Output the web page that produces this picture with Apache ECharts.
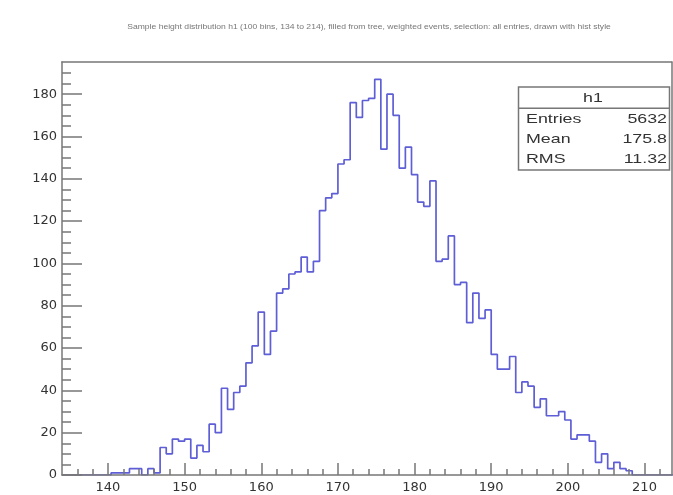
<!DOCTYPE html>
<html><head><meta charset="utf-8">
<script src="https://cdn.jsdelivr.net/npm/echarts@6/dist/echarts.min.js"></script>
<style>html,body{margin:0;padding:0;background:#fff}#c{width:673px;height:495px}</style>
</head><body><div id="c"></div>
<script>
// ---- data ----
const titleText = "Sample height distribution h1 (100 bins, 134 to 214), filled from tree, weighted events, selection: all entries, drawn with hist style";
const xMin = 134;
const binWidth = 0.8;
const binCounts = [
  0,0,0,0,0,0,0,0,1,1,
  1,3,3,0,3,1,13,10,17,16,
  17,8,14,11,24,20,41,31,39,42,
  53,61,77,57,68,86,88,95,96,103,
  96,101,125,131,133,147,149,176,169,177,
  178,187,154,180,170,145,155,142,129,127,
  139,101,102,113,90,91,72,86,74,78,
  57,50,50,56,39,44,42,32,36,28,
  28,30,26,17,19,19,16,6,10,3,
  6,3,2,0,0,0,0,0,0,0
];
const xMajorTicks = [140,150,160,170,180,190,200,210];
const xMinorTicks = [136,138,142,144,146,148,152,154,156,158,162,164,166,168,172,174,176,178,182,184,186,188,192,194,196,198,202,204,206,208,212];
const yMajorTicks = [0,20,40,60,80,100,120,140,160,180];
const yMinorTicks = [5,10,15,25,30,35,45,50,55,65,70,75,85,90,95,105,110,115,125,130,135,145,150,155,165,170,175,185,190];
const statsName = "h1";
const statsLabels = ["Entries","Mean","RMS"];
const statsValues = ["5632","175.8","11.32"];

// ---- build ----
const xMaxView = 213.55, yMaxView = 195.2;
const frameColor = '#777';
const lineData = binCounts.map((c, i) => [xMin + i * binWidth, c]);
lineData.push([xMin + binCounts.length * binWidth, binCounts[binCounts.length - 1]]);

const baseX = {type:'value', min:xMin, max:xMaxView, z:5, splitLine:{show:false}};
const baseY = {type:'value', min:0, max:yMaxView, z:5, splitLine:{show:false}};
const lineStyle = {color:frameColor, width:1.5};
const labelFont = {fontFamily:'DejaVu Sans', fontSize:13, color:'#333'};

const chart = echarts.init(document.getElementById('c'), null, {renderer:'canvas'});
const rowsY = [119.5, 139.5, 159.5];
const graphic = [
  {type:'text', x:369, y:27.5, z:10, scaleX:1.3, style:{text:titleText, fontFamily:'Liberation Sans', fontSize:6.6, fill:'#777', align:'center', verticalAlign:'middle'}},
  {type:'rect', z:10, shape:{x:518.5, y:87, width:151, height:83}, style:{fill:'#fff', stroke:frameColor, lineWidth:1.5}},
  {type:'line', z:11, shape:{x1:518.5, y1:108.3, x2:669.5, y2:108.3}, style:{stroke:frameColor, lineWidth:1.5}},
  {type:'text', z:11, x:593, y:98, scaleX:1.37, style:{text:statsName, fontFamily:'Liberation Sans', fontSize:13, fill:'#333', align:'center', verticalAlign:'middle'}}
];
statsLabels.forEach((t, i) => {
  graphic.push({type:'text', z:11, x:526, y:rowsY[i], scaleX:1.37, style:{text:t, fontFamily:'Liberation Sans', fontSize:13, fill:'#333', align:'left', verticalAlign:'middle'}});
  graphic.push({type:'text', z:11, x:667, y:rowsY[i], scaleX:1.37, style:{text:statsValues[i], fontFamily:'Liberation Sans', fontSize:13, fill:'#333', align:'right', verticalAlign:'middle'}});
});

chart.setOption({
  animation:false,
  backgroundColor:'#fff',
  grid:{left:62, right:1.3, top:62, bottom:20, containLabel:false},
  xAxis:[
    Object.assign({}, baseX, {position:'bottom',
      axisLine:{show:true, onZero:false, lineStyle},
      axisTick:{show:true, inside:true, length:12, customValues:xMajorTicks, lineStyle},
      axisLabel:Object.assign({show:true, customValues:xMajorTicks, margin:6}, labelFont)}),
    Object.assign({}, baseX, {position:'bottom',
      axisLine:{show:false, onZero:false},
      axisTick:{show:true, inside:true, length:6, customValues:xMinorTicks, lineStyle},
      axisLabel:{show:false}}),
    Object.assign({}, baseX, {position:'top',
      axisLine:{show:true, onZero:false, lineStyle},
      axisTick:{show:false}, axisLabel:{show:false}})
  ],
  yAxis:[
    Object.assign({}, baseY, {position:'left',
      axisLine:{show:true, onZero:false, lineStyle},
      axisTick:{show:true, inside:true, length:20, customValues:yMajorTicks, lineStyle},
      axisLabel:Object.assign({show:true, customValues:yMajorTicks, margin:5}, labelFont)}),
    Object.assign({}, baseY, {position:'left',
      axisLine:{show:false, onZero:false},
      axisTick:{show:true, inside:true, length:9, customValues:yMinorTicks, lineStyle},
      axisLabel:{show:false}}),
    Object.assign({}, baseY, {position:'right',
      axisLine:{show:true, onZero:false, lineStyle},
      axisTick:{show:false}, axisLabel:{show:false}})
  ],
  series:[{
    type:'line', xAxisIndex:0, yAxisIndex:0, step:'end', showSymbol:false, symbol:'none',
    data:lineData, clip:true, z:2,
    lineStyle:{color:'#5e5ed6', width:1.7}
  }],
  graphic
});
</script></body></html>
